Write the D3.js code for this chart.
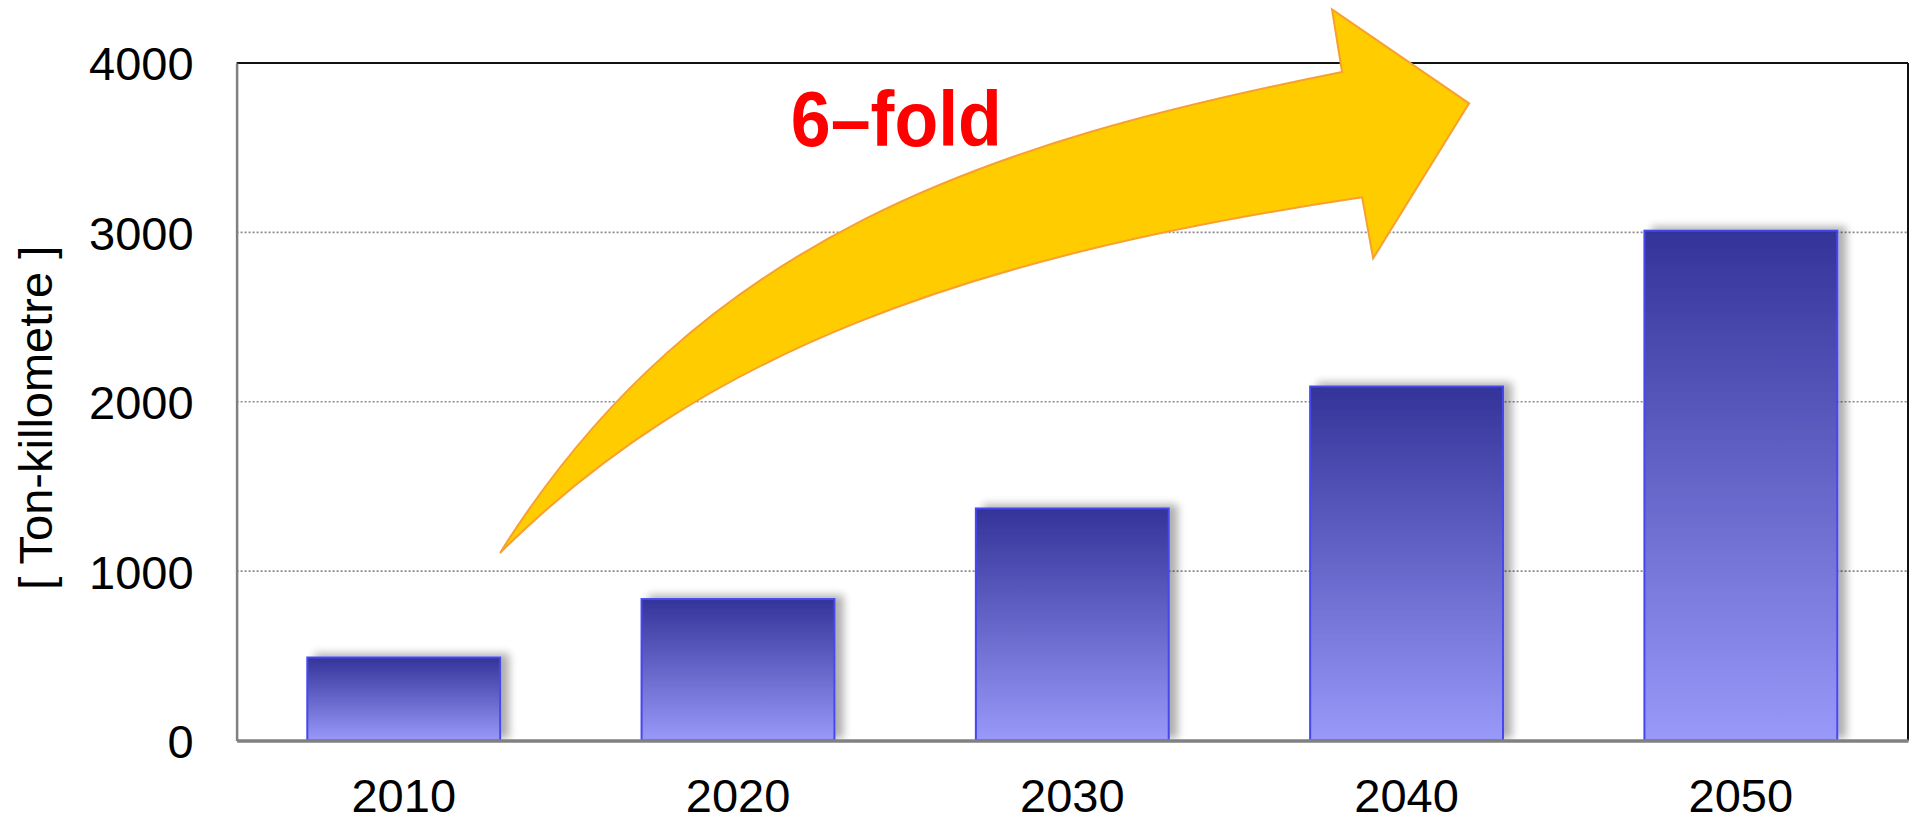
<!DOCTYPE html>
<html>
<head>
<meta charset="utf-8">
<script src="https://cdn.jsdelivr.net/npm/d3@7"></script>
<style>
  html, body { margin: 0; padding: 0; background: #ffffff; }
  svg { display: block; }
  text { font-family: "Liberation Sans", Arial, sans-serif; }
</style>
</head>
<body>
<svg id="chart" width="1912" height="818"></svg>
<script>
// ---- data ----
const categories = ["2010", "2020", "2030", "2040", "2050"];
const values = [490, 835, 1370, 2090, 3010];
const yTicks = [0, 1000, 2000, 3000, 4000];
const yDomain = [0, 4000];
const gridValues = [1000, 2000, 3000];
const yTitle = "[ Ton-killometre ]";
const annotationText = "6\u2013fold";

// ---- annotation geometry, in data units: [category index, value] ----
const annotationAnchor = [1.158, 3510];
// upper edge of the curved arrow: cubic Bezier (start, control 1, control 2, end)
const arrowUpper = [[0.288, 1107], [0.886, 2990], [1.760, 3534], [2.807, 3947]];
// arrow head: upper barb, tip, lower barb, lower shaft junction
const arrowHead = [[2.777, 4317], [3.187, 3762], [2.900, 2847], [2.867, 3207]];
// lower edge, running back to the tail: cubic Bezier
const arrowLower = [[2.867, 3207], [1.670, 2855], [0.886, 2282], [0.288, 1107]];

// ---- layout ----
const W = 1912, H = 818;
const margin = { left: 236.6, right: 4, top: 63, bottom: 77.5 };
const L = margin.left, R = W - margin.right, T = margin.top, B = H - margin.bottom;

const svg = d3.select("#chart");
svg.append("rect").attr("width", W).attr("height", H).attr("fill", "#ffffff");

const x = d3.scaleBand().domain(categories).range([L, R]).paddingInner(0.423).paddingOuter(0.2115);
const xi = d3.scaleLinear().domain([-0.5, categories.length - 0.5]).range([L, R]);
const y = d3.scaleLinear().domain(yDomain).range([B, T]);

const defs = svg.append("defs");
const grad = defs.append("linearGradient").attr("id", "barGrad")
  .attr("x1", 0).attr("y1", 0).attr("x2", 0).attr("y2", 1);
grad.append("stop").attr("offset", "0%").attr("stop-color", "#333399");
grad.append("stop").attr("offset", "100%").attr("stop-color", "#9999FA");

const shadow = defs.append("filter").attr("id", "shadow")
  .attr("x", "-20%").attr("y", "-20%").attr("width", "150%").attr("height", "140%");
shadow.append("feGaussianBlur").attr("in", "SourceAlpha").attr("stdDeviation", 4).attr("result", "blur");
shadow.append("feOffset").attr("in", "blur").attr("dx", 8).attr("dy", -3).attr("result", "off");
shadow.append("feComponentTransfer").attr("in", "off").attr("result", "soft")
  .append("feFuncA").attr("type", "linear").attr("slope", 0.32);
const merge = shadow.append("feMerge");
merge.append("feMergeNode").attr("in", "soft");
merge.append("feMergeNode").attr("in", "SourceGraphic");

const clip = defs.append("clipPath").attr("id", "plotClip");
clip.append("rect").attr("x", L).attr("y", T - 20).attr("width", R - L).attr("height", B - T + 20);

// gridlines
svg.append("g")
  .selectAll("line").data(gridValues).join("line")
  .attr("x1", L).attr("x2", R)
  .attr("y1", d => y(d)).attr("y2", d => y(d))
  .attr("stroke", "#8a8a8a").attr("stroke-width", 1.6).attr("stroke-dasharray", "2,2");

// frame: top & right black
svg.append("line").attr("x1", L).attr("x2", R).attr("y1", T).attr("y2", T)
  .attr("stroke", "#111").attr("stroke-width", 2);
svg.append("line").attr("x1", R).attr("x2", R).attr("y1", T).attr("y2", B)
  .attr("stroke", "#111").attr("stroke-width", 2);

// bars
svg.append("g").attr("clip-path", "url(#plotClip)")
  .selectAll("rect").data(categories).join("rect")
  .attr("x", d => x(d))
  .attr("y", (d, i) => y(values[i]))
  .attr("width", x.bandwidth())
  .attr("height", (d, i) => B - y(values[i]))
  .attr("fill", "url(#barGrad)")
  .attr("stroke", "#4646EE").attr("stroke-width", 2)
  .attr("filter", "url(#shadow)");

// y axis
const yAxis = svg.append("g").attr("transform", `translate(${L},0)`)
  .call(d3.axisLeft(y).tickValues(yTicks).tickSize(0).tickPadding(43).tickFormat(d3.format("d")));
yAxis.select(".domain").attr("stroke", "#808080").attr("stroke-width", 2.5);
yAxis.selectAll("text").attr("font-size", 47).attr("fill", "#000")
  .attr("font-family", "'Liberation Sans', Arial, sans-serif").attr("dy", "0.36em");

// x axis
const xAxis = svg.append("g").attr("transform", `translate(0,${B})`)
  .call(d3.axisBottom(x).tickSize(0).tickPadding(38));
xAxis.select(".domain").attr("stroke", "#808080").attr("stroke-width", 3.5);
xAxis.selectAll("text").attr("font-size", 47).attr("fill", "#000")
  .attr("font-family", "'Liberation Sans', Arial, sans-serif");

// y title
svg.append("text")
  .attr("transform", `translate(52,${(T + B) / 2 + 16}) rotate(-90)`)
  .attr("text-anchor", "middle")
  .attr("font-size", 47).attr("fill", "#000")
  .text(yTitle);

// curved arrow
const toPx = p => [xi(p[0]), y(p[1])];
const up = arrowUpper.map(toPx), hd = arrowHead.map(toPx), lo = arrowLower.map(toPx);
const ap = d3.path();
ap.moveTo(up[0][0], up[0][1]);
ap.bezierCurveTo(up[1][0], up[1][1], up[2][0], up[2][1], up[3][0], up[3][1]);
hd.forEach(p => ap.lineTo(p[0], p[1]));
ap.lineTo(lo[0][0], lo[0][1]);
ap.bezierCurveTo(lo[1][0], lo[1][1], lo[2][0], lo[2][1], lo[3][0], lo[3][1]);
ap.closePath();
svg.append("path")
  .attr("d", ap.toString())
  .attr("fill", "#FFCC00")
  .attr("stroke", "#F7A030").attr("stroke-width", 2).attr("stroke-linejoin", "miter");

// annotation text
svg.append("text")
  .attr("x", xi(annotationAnchor[0])).attr("y", y(annotationAnchor[1]))
  .attr("font-size", 78).attr("font-weight", "bold").attr("fill", "#FF0000")
  .attr("textLength", 211).attr("lengthAdjust", "spacingAndGlyphs")
  .text(annotationText);
</script>
</body>
</html>
